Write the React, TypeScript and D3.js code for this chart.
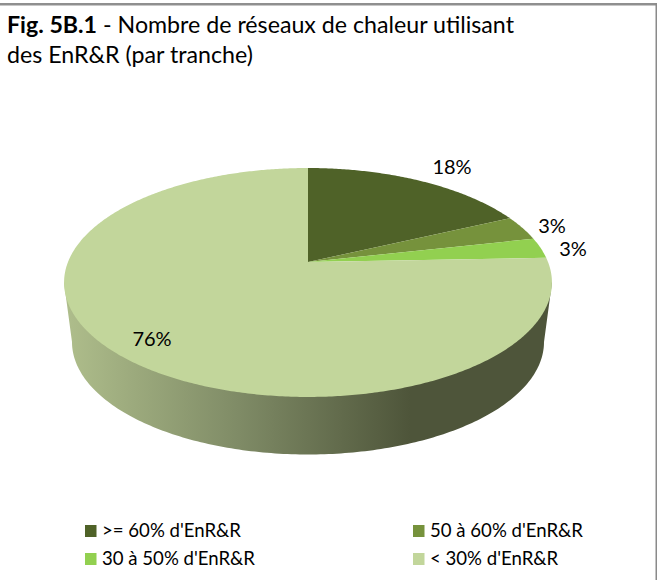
import React from "react";
import * as d3 from "d3";

const categories = [">= 60% d'EnR&R", "50 à 60% d'EnR&R", "30 à 50% d'EnR&R", "< 30% d'EnR&R"];
const shares = [18, 3.5, 2.9, 75.6];
const shareLabels = ["18%", "3%", "3%", "76%"];
const sliceColors = ["#4f6228", "#76923c", "#92d050", "#c2d69b"];

const W = 657, H = 580;
const FONT = "Lato, 'Open Sans', sans-serif";
// perspective disc: apex on screen, half axes and tilt factor
const APEX = { x: 308, y: 262 };
const A = 240, B = 110.8, P = 0.179;
const project = (t: number): [number, number] => {
  const u = Math.sin(t), v = Math.cos(t), s = 1 / (1 + P * v);
  return [APEX.x + A * u * s, APEX.y - B * v * s];
};
const slicePath = (a0: number, a1: number) => {
  const n = Math.max(4, Math.ceil((a1 - a0) / 0.01));
  const pts: [number, number][] = [[APEX.x, APEX.y]];
  d3.range(n + 1).forEach((i) => pts.push(project(a0 + ((a1 - a0) * i) / n)));
  return d3.line()(pts) + "Z";
};
const pieGen = d3.pie<number>().sort(null);
const arcs = pieGen(shares);

// side wall
const top = { cx: 308, cy: 282.5, rx: 244 };
const bottom = { cx: 308, cy: 342, rx: 236, ry: 112.5 };
const wallPts: [number, number][] = [[top.cx - top.rx, top.cy]];
d3.range(0, 181).forEach((d) => {
  const a = (Math.PI * d) / 180;
  wallPts.push([bottom.cx - bottom.rx * Math.cos(a), bottom.cy + bottom.ry * Math.sin(a)]);
});
wallPts.push([top.cx + top.rx, top.cy]);
const wallPath = d3.line()(wallPts) + "Z";

const labelPos = [
  { x: 452, y: 174 },
  { x: 552, y: 233 },
  { x: 573, y: 256 },
  { x: 152, y: 346 },
];
const legendX = d3.scaleOrdinal<number, number>().domain([0, 1]).range([85, 413]);
const legendY = d3.scaleOrdinal<number, number>().domain([0, 1]).range([525, 553]);

export default function App() {
  return (
    <svg width={W} height={H} style={{ position: "absolute", left: 0, top: 0, background: "#fff" }} fontFamily={FONT}>
      <defs>
        <linearGradient id="wall" gradientUnits="userSpaceOnUse" x1={68} x2={410} y1={0} y2={0}>
          <stop offset="0" stopColor="#aebd8b" />
          <stop offset="0.5" stopColor="#7f8b66" />
          <stop offset="1" stopColor="#4e553a" />
        </linearGradient>
      </defs>
      <rect x={0} y={3} width={W} height={2.5} fill="#8f8f8f" />
      <rect x={655.5} y={3} width={1.5} height={H} fill="#8a8a8a" />
      <text x={7} y={33} fontSize={23.2} fill="#000">
        <tspan fontWeight={700}>Fig. 5B.1</tspan>
        <tspan> - Nombre de réseaux de chaleur utilisant</tspan>
      </text>
      <text x={7} y={63} fontSize={23.2} fill="#000">des EnR&amp;R (par tranche)</text>

      <path d={wallPath} fill="url(#wall)" />
      {arcs.map((a, i) => (
        <path key={i} d={slicePath(a.startAngle, a.endAngle)} fill={sliceColors[i]} />
      ))}
      {shareLabels.map((l, i) => (
        <text key={i} x={labelPos[i].x} y={labelPos[i].y} textAnchor="middle" fontSize={20} fill="#000">{l}</text>
      ))}
      {categories.map((c, i) => {
        const x = legendX(i % 2), y = legendY(Math.floor(i / 2));
        return (
          <g key={c}>
            <rect x={x} y={y} width={11.5} height={12} fill={sliceColors[i]} />
            <text x={x + 17} y={y + 12} fontSize={18.6} fill="#000">{c}</text>
          </g>
        );
      })}
    </svg>
  );
}
